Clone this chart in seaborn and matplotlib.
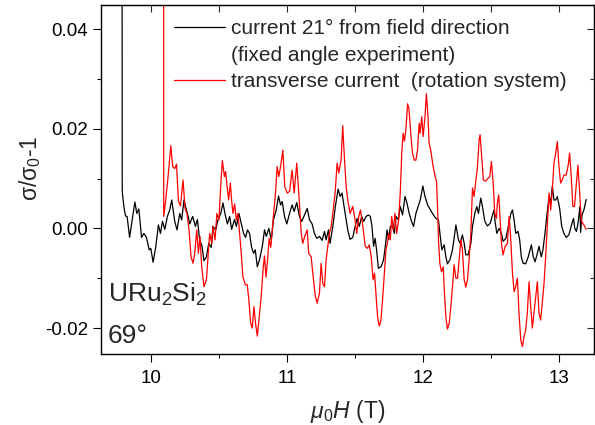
import matplotlib
matplotlib.use("Agg")
import matplotlib.pyplot as plt
import numpy as np
import pandas as pd
import seaborn as sns
from matplotlib.lines import Line2D
from matplotlib.ticker import MultipleLocator

# field (T) and sigma/sigma0-1 (in units of 1e-3)
field_fixed = [
    9.788, 9.790, 9.802, 9.814, 9.826, 9.844, 9.863, 9.883, 9.897, 9.912, 9.932, 9.949, 9.968, 9.988,
    10.000, 10.017, 10.037, 10.056, 10.071, 10.086, 10.103, 10.122, 10.139, 10.154, 10.176, 10.193,
    10.213, 10.227, 10.244, 10.259, 10.274, 10.286, 10.308, 10.328, 10.343, 10.359, 10.376, 10.391,
    10.409, 10.426, 10.445, 10.457, 10.477, 10.494, 10.514, 10.531, 10.545, 10.563, 10.580, 10.594,
    10.616, 10.629, 10.648, 10.663, 10.682, 10.697, 10.711, 10.726, 10.741, 10.756, 10.768, 10.783,
    10.800, 10.820, 10.836, 10.849, 10.868, 10.886, 10.902, 10.922, 10.939, 10.954, 10.966, 10.983,
    11.000, 11.020, 11.039, 11.054, 11.073, 11.093, 11.110, 11.130, 11.150, 11.167, 11.186, 11.203,
    11.220, 11.240, 11.260, 11.277, 11.289, 11.306, 11.318, 11.338, 11.357, 11.377, 11.392, 11.406,
    11.418, 11.431, 11.448, 11.465, 11.485, 11.502, 11.517, 11.533, 11.550, 11.565, 11.583, 11.600,
    11.614, 11.626, 11.638, 11.649, 11.660, 11.673, 11.693, 11.711, 11.724, 11.737, 11.749, 11.761,
    11.778, 11.790, 11.803, 11.820, 11.834, 11.851, 11.869, 11.883, 11.900, 11.917, 11.932, 11.949,
    11.966, 11.981, 12.000, 12.016, 12.035, 12.071, 12.096, 12.115, 12.128, 12.140, 12.157, 12.169,
    12.181, 12.199, 12.218, 12.243, 12.262, 12.274, 12.291, 12.304, 12.316, 12.333, 12.353, 12.365,
    12.382, 12.397, 12.409, 12.426, 12.438, 12.456, 12.475, 12.495, 12.512, 12.524, 12.531, 12.544,
    12.561, 12.578, 12.590, 12.610, 12.629, 12.647, 12.659, 12.671, 12.683, 12.700, 12.712, 12.724,
    12.737, 12.756, 12.775, 12.798, 12.812, 12.825, 12.842, 12.854, 12.871, 12.883, 12.898, 12.911,
    12.928, 12.940, 12.952, 12.964, 12.977, 12.989, 13.006, 13.021, 13.037, 13.054, 13.074, 13.093,
    13.108, 13.117, 13.129, 13.141, 13.155, 13.160, 13.170, 13.184, 13.201,
]
sigma_fixed = [
    100.0, 7.4, 4.4, 2.5, 2.4, -1.8, 1.7, 5.3, 3.0, 3.9, -1.8, -1.0, -1.8, -4.3,
    -4.0, -6.8, -3.6, 0.7, -1.0, 1.4, -0.2, 2.4, 3.7, 5.7, 1.4, -0.3,
    3.0, 1.7, 5.7, 4.0, 2.5, 0.9, 2.4, 0.4, 1.8, -2.3, -3.5, -6.5,
    -5.7, -3.0, -3.8, 0.4, -0.3, 1.7, 3.0, 5.1, 3.0, 0.9, 2.4, -0.2,
    1.8, 0.4, 3.0, 1.2, -1.0, -1.8, -0.3, -1.0, -3.8, -5.0, -4.3, -7.7,
    -6.2, -3.6, -0.3, -1.6, 0.0, -2.3, 1.7, 3.7, 6.5, 4.7, 5.4, 2.4,
    0.9, 3.0, 4.7, 3.4, 5.2, 2.4, 1.4, 2.7, 4.0, 1.7, 0.9, -1.0,
    -2.0, -1.6, -2.4, -0.6, -2.3, -0.3, -3.0, 0.4, 4.4, 7.9, 6.4, 7.1,
    4.9, 2.7, -0.3, -2.2, -1.8, 0.4, 2.0, 0.4, 2.4, 1.4, 2.4, 2.7,
    2.4, 0.4, -3.6, -2.0, -4.3, -8.0, -7.7, -6.3, -3.6, -0.3, -2.2, 0.4,
    0.4, -1.0, 2.4, 1.7, 4.4, 2.7, 6.4, 5.1, 3.0, 1.4, 0.4, 3.0,
    4.4, 5.7, 8.5, 6.4, 4.7, 3.0, 2.0, 1.7, -1.6, -4.3, -3.3, -5.7,
    -7.1, -6.3, -4.3, 0.7, -2.3, -3.0, -1.3, -3.0, -5.3, -5.3, -3.0, 0.4,
    3.0, 4.4, 3.0, 6.1, 4.4, 1.4, 0.5, 1.0, 2.7, 3.7, 1.4, -1.0,
    0.0, -1.0, -2.6, -2.0, 0.4, 3.0, 3.7, 1.7, -1.0, -0.6, -2.3, -5.7,
    -7.0, -7.1, -5.7, -3.3, -5.7, -6.7, -5.0, -3.6, -5.7, -4.3, -1.0, 2.4,
    6.4, 5.1, 8.5, 5.7, 5.7, 6.4, 4.0, 0.4, -1.0, -1.8, -1.3, 0.7,
    2.0, 0.0, -0.6, 1.0, 4.4, -0.8, 2.7, 3.7, 5.8,
]

field_rot = [
    10.094, 10.095, 10.110, 10.127, 10.147, 10.161, 10.176, 10.189, 10.203, 10.218, 10.237, 10.252,
    10.266, 10.281, 10.296, 10.310, 10.323, 10.338, 10.350, 10.362, 10.374, 10.391, 10.409, 10.421,
    10.433, 10.448, 10.457, 10.472, 10.486, 10.501, 10.514, 10.526, 10.541, 10.550, 10.560, 10.572,
    10.585, 10.594, 10.604, 10.616, 10.629, 10.641, 10.653, 10.665, 10.677, 10.695, 10.709, 10.721,
    10.734, 10.746, 10.758, 10.770, 10.783, 10.795, 10.812, 10.826, 10.836, 10.847, 10.858, 10.870,
    10.882, 10.900, 10.917, 10.929, 10.941, 10.954, 10.971, 10.985, 11.003, 11.020, 11.039, 11.054,
    11.073, 11.088, 11.106, 11.117, 11.135, 11.150, 11.161, 11.179, 11.196, 11.210, 11.223, 11.240,
    11.252, 11.264, 11.277, 11.289, 11.301, 11.313, 11.326, 11.338, 11.355, 11.370, 11.382, 11.399,
    11.411, 11.423, 11.436, 11.448, 11.465, 11.485, 11.502, 11.514, 11.529, 11.541, 11.553, 11.565,
    11.577, 11.592, 11.606, 11.621, 11.634, 11.645, 11.655, 11.667, 11.680, 11.692, 11.704, 11.717,
    11.729, 11.739, 11.749, 11.761, 11.771, 11.783, 11.795, 11.807, 11.822, 11.834, 11.845, 11.855,
    11.865, 11.876, 11.888, 11.898, 11.910, 11.924, 11.937, 11.949, 11.961, 11.973, 11.980, 11.992,
    12.002, 12.016, 12.026, 12.038, 12.046, 12.058, 12.075, 12.090, 12.101, 12.108, 12.115, 12.125,
    12.137, 12.150, 12.159, 12.169, 12.181, 12.194, 12.206, 12.218, 12.230, 12.243, 12.255, 12.267,
    12.280, 12.291, 12.304, 12.316, 12.328, 12.340, 12.353, 12.365, 12.377, 12.390, 12.401, 12.414,
    12.421, 12.433, 12.445, 12.463, 12.480, 12.492, 12.504, 12.517, 12.529, 12.541, 12.548, 12.558,
    12.568, 12.578, 12.590, 12.605, 12.622, 12.634, 12.645, 12.659, 12.671, 12.683, 12.695, 12.707,
    12.720, 12.732, 12.744, 12.756, 12.768, 12.781, 12.793, 12.805, 12.817, 12.830, 12.842, 12.854,
    12.866, 12.878, 12.891, 12.903, 12.915, 12.928, 12.940, 12.952, 12.964, 12.977, 12.989, 13.001,
    13.013, 13.025, 13.037, 13.054, 13.069, 13.079, 13.091, 13.103, 13.115, 13.127, 13.140, 13.152,
    13.160, 13.167, 13.184, 13.201,
]
sigma_rot = [
    100.0, 2.4, 5.7, 10.4, 16.6, 12.4, 12.0, 12.9, 5.5, 4.5, 9.7, 4.0,
    3.0, -0.3, -5.7, -7.0, -5.0, -0.3, -5.0, -1.6, -7.7, -11.7, -10.3, -5.7,
    -1.0, -3.0, 0.4, -2.3, 3.0, 1.7, 8.4, 13.6, 10.4, 11.4, 8.7, 5.7,
    9.1, 5.7, 3.0, 4.9, 1.7, 3.0, -1.0, -5.0, -9.7, -11.3, -11.3, -14.3,
    -19.0, -20.0, -15.7, -19.0, -21.6, -18.4, -13.5, -8.0, -5.5, -9.8, -6.5, -2.0,
    -3.8, 2.0, 7.1, 12.4, 10.4, 12.4, 15.7, 8.4, 7.1, 7.4, 11.7, 7.1,
    13.1, 7.1, -1.0, -3.0, -1.3, -0.3, -5.0, -5.7, -10.3, -13.7, -15.0, -13.0,
    -7.0, -11.0, -11.7, -6.3, -3.6, -1.0, 0.4, 3.0, 7.1, 13.1, 11.1, 13.7,
    20.6, 14.4, 8.4, 5.7, 3.0, 4.4, 1.7, -1.0, 2.4, 3.7, 1.7, -1.0,
    -3.6, -4.0, -3.3, -5.7, -10.3, -9.0, -13.0, -17.7, -19.6, -18.4, -14.3, -9.0,
    -4.3, -3.0, -1.0, -2.3, 2.4, -0.3, 3.0, -1.0, 1.7, 7.1, 15.0, 19.1,
    17.5, 20.0, 25.0, 24.0, 19.5, 15.1, 13.7, 13.7, 15.7, 21.1, 19.1, 22.4,
    18.4, 22.4, 27.0, 22.4, 17.1, 15.7, 12.5, 10.5, 9.4, 4.4, -2.3, -7.0,
    -8.7, -7.7, -13.0, -17.7, -20.2, -19.0, -15.7, -11.7, -7.3, -10.0, -10.0, -6.3,
    -2.3, -4.3, -10.3, -11.8, -10.3, -6.3, -1.0, 8.1, 6.4, 9.7, 12.1, 17.8,
    18.8, 14.4, 9.7, 9.5, 10.1, 10.4, 13.4, 9.1, 3.0, 2.0, 5.1, 6.7,
    1.7, -3.0, -5.3, -3.6, -3.0, 2.4, -1.5, -9.0, -12.7, -11.7, -10.0, -17.0,
    -22.4, -23.7, -21.7, -20.4, -17.0, -10.7, -15.7, -20.0, -17.0, -13.7, -10.7, -17.0,
    -18.4, -15.0, -11.0, -5.7, 0.4, 7.1, 3.7, 7.7, 13.1, 15.1, 17.4, 12.4,
    9.1, 9.7, 10.7, 10.7, 12.7, 15.1, 10.4, 4.4, 4.4, 8.4, 12.7, 7.7,
    3.7, 1.4, 0.7, -0.2,
]

label_fixed = "current 21° from field direction"
label_fixed_2 = "(fixed angle experiment)"
label_rot = "transverse current  (rotation system)"

df_fixed = pd.DataFrame({"H": field_fixed, "s": np.array(sigma_fixed) * 1e-3})
df_rot = pd.DataFrame({"H": field_rot, "s": np.array(sigma_rot) * 1e-3})

sns.set_style("ticks")
plt.rcParams["font.family"] = ["Liberation Sans", "DejaVu Sans"]
plt.rcParams["mathtext.fontset"] = "custom"
plt.rcParams["mathtext.rm"] = "Liberation Sans"
plt.rcParams["mathtext.it"] = "Liberation Sans:italic"

fig = plt.figure(figsize=(5.95, 4.25), dpi=100)
ax = fig.add_axes([0.170, 0.167, 0.828, 0.821])

sns.lineplot(data=df_fixed, x="H", y="s", color="black", lw=0.9, sort=False, estimator=None, ax=ax)
sns.lineplot(data=df_rot, x="H", y="s", color="red", lw=0.9, sort=False, estimator=None, ax=ax)

ax.set_xlim(9.635, 13.257)
ax.set_ylim(-0.0252, 0.0448)
ax.set_xticks([10, 11, 12, 13])
ax.set_yticks([-0.02, 0.0, 0.02, 0.04])
ax.set_yticklabels(["-0.02", "0.00", "0.02", "0.04"])
ax.xaxis.set_minor_locator(MultipleLocator(0.5))
ax.yaxis.set_minor_locator(MultipleLocator(0.01))
ax.tick_params(which="both", direction="out", labelsize=13.5, width=0.8, colors="black")
ax.tick_params(which="major", length=5.5)
ax.tick_params(which="minor", length=3)
ax.tick_params(axis="x", pad=6)
ax.tick_params(axis="y", pad=4)
for sp in ax.spines.values():
    sp.set_linewidth(1.0)
    sp.set_color("black")

# inward ticks on the top and right frame
top = ax.secondary_xaxis("top")
top.set_xticks([10, 11, 12, 13])
top.xaxis.set_minor_locator(MultipleLocator(0.5))
top.tick_params(which="both", direction="in", labeltop=False, width=0.8, length=5)
right = ax.secondary_yaxis("right")
right.set_yticks([-0.02, 0.0, 0.02, 0.04])
right.yaxis.set_minor_locator(MultipleLocator(0.01))
right.tick_params(which="both", direction="in", labelright=False, width=0.8)
right.tick_params(which="major", length=5)
right.tick_params(which="minor", length=3)

ax.set_xlabel(r"$\mu_0H$ (T)", fontsize=16.5)
ax.xaxis.set_label_coords(0.5, -0.125)
ax.set_ylabel(r"σ/σ$_0$-1", fontsize=16.5)
ax.yaxis.set_label_coords(-0.118, 0.533)

ax.text(0.014, 0.149, r"URu$_2$Si$_2$", transform=ax.transAxes, fontsize=19)
ax.text(0.014, 0.032, "69°", transform=ax.transAxes, fontsize=19)

handles = [
    Line2D([], [], color="black", lw=0.9),
    Line2D([], [], color="none"),
    Line2D([], [], color="red", lw=0.9),
]
ax.legend(handles, [label_fixed, label_fixed_2, label_rot], loc="upper left",
          bbox_to_anchor=(0.131, 0.984), frameon=False, fontsize=15,
          handlelength=2.45, handletextpad=0.3, labelspacing=0.36, borderaxespad=0)

sns.despine(ax=ax, top=False, right=False)
fig.savefig("out.png", dpi=100)
plt.close(fig)
